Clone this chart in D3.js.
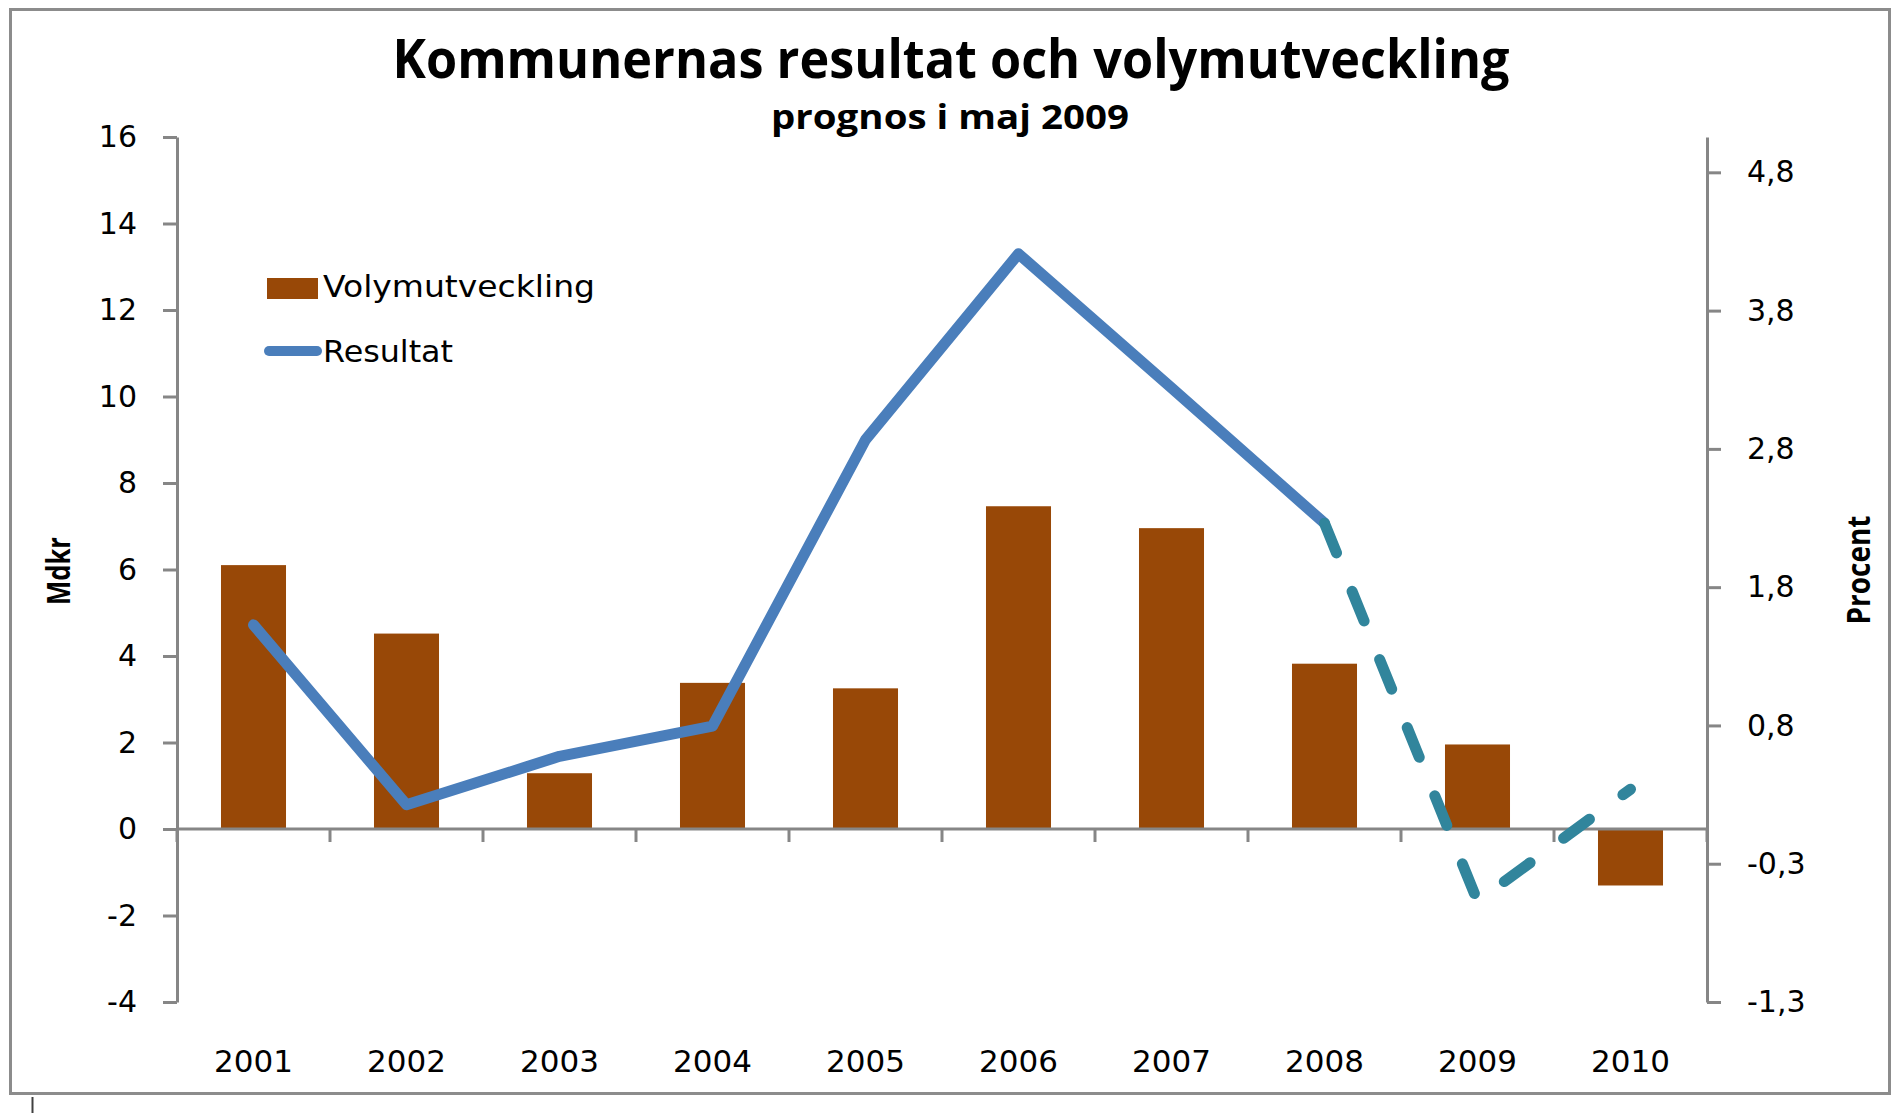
<!DOCTYPE html>
<html>
<head>
<meta charset="utf-8">
<script src="https://cdn.jsdelivr.net/npm/d3@7"></script>
<style>
  body { margin: 0; background: #fff; }
</style>
</head>
<body>
<svg id="chart" width="1894" height="1113"></svg>
<script>
// DATA
const years = ["2001", "2002", "2003", "2004", "2005", "2006", "2007", "2008", "2009", "2010"];
// Volymutveckling, procent (right axis)
const volym = [1.93, 1.43, 0.41, 1.07, 1.03, 2.36, 2.2, 1.21, 0.62, -0.41];
// Resultat, Mdkr (left axis)
const resultat = [4.72, 0.56, 1.68, 2.38, 9.0, 13.3, 10.2, 7.07, -1.67, 0.92];
const forecastStart = "2008";
const leftTicks = [-4, -2, 0, 2, 4, 6, 8, 10, 12, 14, 16];
const rightTicks = [-1.261, -0.251, 0.759, 1.769, 2.779, 3.789, 4.799];
const rightTickLabels = ["-1,3", "-0,3", "0,8", "1,8", "2,8", "3,8", "4,8"];

// CANVAS SETUP
const svg = d3.select("#chart");
const axisColor = "#868686",
  barColor = "#984807",
  lineColor = "#4a7ebb",
  dashColor = "#31859c";

const plot = { left: 177, right: 1707, top: 137, bottom: 1002 };

const x = d3
  .scaleBand()
  .domain(years)
  .range([plot.left, plot.right])
  .paddingInner(0.575)
  .paddingOuter(0.2875);

const yL = d3.scaleLinear().domain([-4, 16]).range([plot.bottom, plot.top]);
const yR = d3.scaleLinear().domain([-1.261, 5.057]).range([plot.bottom, plot.top]);

// outer frame
svg.append("rect")
  .attr("x", 10.5).attr("y", 9.5)
  .attr("width", 1879).attr("height", 1084)
  .attr("fill", "none")
  .attr("stroke", "#8c8c8c")
  .attr("stroke-width", 3);
svg.append("line")
  .attr("x1", 32.5).attr("x2", 32.5)
  .attr("y1", 1097).attr("y2", 1113)
  .attr("stroke", "#404040").attr("stroke-width", 2);

// BARS
const rows = years.map((y, i) => ({ year: y, volym: volym[i], resultat: resultat[i] }));

svg.append("g")
  .selectAll("rect")
  .data(rows)
  .join("rect")
  .attr("x", (d) => x(d.year))
  .attr("width", x.bandwidth())
  .attr("y", (d) => Math.min(yR(d.volym), yR(0)))
  .attr("height", (d) => Math.abs(yR(d.volym) - yR(0)))
  .attr("fill", barColor);

// AXES
const styleAxis = (g) => {
  g.selectAll(".domain").attr("stroke", axisColor).attr("stroke-width", 3);
  g.selectAll(".tick line").attr("stroke", axisColor).attr("stroke-width", 3);
  g.selectAll(".tick text")
    .attr("fill", "#000")
    .style("font-family", "DejaVu Sans, Verdana, sans-serif")
    .style("font-size", "30px");
};

svg.append("g")
  .attr("transform", `translate(${plot.left},0)`)
  .call(
    d3.axisLeft(yL)
      .tickValues(leftTicks)
      .tickFormat((d) => String(d))
      .tickSize(14)
      .tickSizeOuter(0)
      .tickPadding(26)
  )
  .call(styleAxis);

svg.append("g")
  .attr("transform", `translate(${plot.right},0)`)
  .call(
    d3.axisRight(yR)
      .tickValues(rightTicks)
      .tickFormat((d, i) => rightTickLabels[i])
      .tickSize(14)
      .tickSizeOuter(0)
      .tickPadding(26)
  )
  .call(styleAxis);

// category axis along zero
const step = x.step();
const bounds = years.map((y) => x(y) + x.bandwidth() / 2 - step / 2).concat([plot.right]);
const gx = svg.append("g");
gx.append("line")
  .attr("x1", plot.left).attr("x2", plot.right)
  .attr("y1", yL(0)).attr("y2", yL(0))
  .attr("stroke", axisColor).attr("stroke-width", 3);
gx.selectAll("line.tk")
  .data(bounds)
  .join("line")
  .attr("class", "tk")
  .attr("x1", (d) => d).attr("x2", (d) => d)
  .attr("y1", yL(0)).attr("y2", yL(0) + 13)
  .attr("stroke", axisColor).attr("stroke-width", 3);
gx.selectAll("text")
  .data(years)
  .join("text")
  .attr("x", (d) => x(d) + x.bandwidth() / 2)
  .attr("y", 1072)
  .attr("text-anchor", "middle")
  .style("font-family", "DejaVu Sans, Verdana, sans-serif")
  .style("font-size", "31px")
  .text((d) => d);

// LINE
const line = d3.line()
  .x((d) => x(d.year) + x.bandwidth() / 2)
  .y((d) => yL(d.resultat));
const fi = years.indexOf(forecastStart);

svg.append("path")
  .datum(rows.slice(0, fi + 1))
  .attr("d", line)
  .attr("fill", "none")
  .attr("stroke", lineColor)
  .attr("stroke-width", 11)
  .attr("stroke-linejoin", "round")
  .attr("stroke-linecap", "round");

svg.append("path")
  .datum(rows.slice(fi))
  .attr("d", line)
  .attr("fill", "none")
  .attr("stroke", dashColor)
  .attr("stroke-width", 11)
  .attr("stroke-dasharray", "32 41.5")
  .attr("stroke-linejoin", "round")
  .attr("stroke-linecap", "round");

// TITLES
const bold = "Open Sans, Lato, sans-serif";
svg.append("text")
  .attr("x", 951).attr("y", 78)
  .attr("text-anchor", "middle")
  .attr("textLength", 1117).attr("lengthAdjust", "spacingAndGlyphs")
  .style("font-family", bold).style("font-weight", 700).style("font-size", "53px")
  .text("Kommunernas resultat och volymutveckling");
svg.append("text")
  .attr("x", 950).attr("y", 129)
  .attr("text-anchor", "middle")
  .attr("textLength", 358).attr("lengthAdjust", "spacingAndGlyphs")
  .style("font-family", bold).style("font-weight", 700).style("font-size", "34px")
  .text("prognos i maj 2009");

svg.append("text")
  .attr("transform", "translate(70,571) rotate(-90)")
  .attr("text-anchor", "middle")
  .attr("textLength", 68).attr("lengthAdjust", "spacingAndGlyphs")
  .style("font-family", bold).style("font-weight", 700).style("font-size", "33px")
  .text("Mdkr");
svg.append("text")
  .attr("transform", "translate(1870,570) rotate(-90)")
  .attr("text-anchor", "middle")
  .attr("textLength", 109).attr("lengthAdjust", "spacingAndGlyphs")
  .style("font-family", bold).style("font-weight", 700).style("font-size", "33px")
  .text("Procent");

// LEGEND
const lg = svg.append("g").style("font-family", "DejaVu Sans, Verdana, sans-serif").style("font-size", "30px");
lg.append("rect")
  .attr("x", 267).attr("y", 278).attr("width", 51).attr("height", 21)
  .attr("fill", barColor);
lg.append("text")
  .attr("x", 323).attr("y", 297)
  .attr("textLength", 272).attr("lengthAdjust", "spacingAndGlyphs")
  .text("Volymutveckling");
lg.append("line")
  .attr("x1", 269).attr("x2", 317).attr("y1", 351).attr("y2", 351)
  .attr("stroke", lineColor).attr("stroke-width", 10).attr("stroke-linecap", "round");
lg.append("text")
  .attr("x", 323).attr("y", 362)
  .attr("textLength", 130).attr("lengthAdjust", "spacingAndGlyphs")
  .text("Resultat");
</script>
</body>
</html>
